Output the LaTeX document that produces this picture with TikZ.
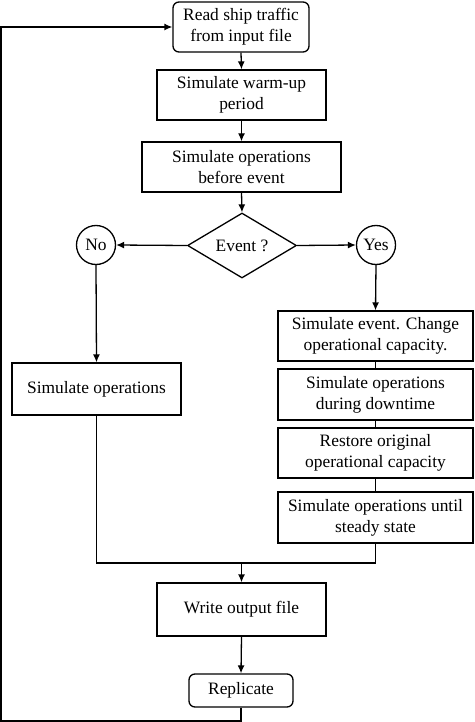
\documentclass[tikz,border=0pt]{standalone}
\usepackage{fontspec}
\setmainfont{Liberation Serif}
\usetikzlibrary{positioning, calc, shapes, arrows.meta}
\tikzset{
  procbox/.style={draw, rectangle, align=center, inner sep=2pt, minimum width=169pt, minimum height=50pt},
  roundbox/.style={procbox, rounded corners=6pt},
  flowline/.style={line width=1.3pt},
  flowarrow/.style={flowline, -{Latex[length=8pt, width=7pt]}}
}

\begin{document}
\begin{tikzpicture}[x=1pt, y=-1pt, font=\fontsize{17.4}{21}\selectfont, line width=1.3pt]

  \useasboundingbox (0,0) rectangle (474,722);

  % main column nodes

  \node[roundbox, minimum width=136pt] (read) at (241,27) {Read ship traffic\\from input file};
  \node[procbox] (warm) at (241.5,95) {Simulate warm-up\\period};
  \node[procbox, minimum width=199pt] (before) at (241.5,167) {Simulate operations\\before event};
  \node[draw, diamond, inner sep=0pt, aspect=1.68, minimum width=109pt, minimum height=65pt] (event) at (242,245.5) {Event ?};

  \draw[flowarrow] (read.south) -- (warm.north);
  \draw[flowarrow] (warm.south) -- (before.north);
  \draw[flowarrow] (before.south) -- (event.north);

  % decision nodes

  \node[draw, circle, inner sep=0pt, minimum size=39pt] (no) at (96,245) {No};
  \node[draw, circle, inner sep=0pt, minimum size=39pt] (yes) at (376,245) {Yes};

  \draw[flowarrow] (event.west) -- (no.east);
  \draw[flowarrow] (event.east) -- (yes.west);

  % no event branch

  \node[procbox, minimum height=52pt] (simops) at (96.5,389) {Simulate operations};
  \draw[flowarrow] (no.south) -- (simops.north);

  % event branch

  \node[procbox, minimum width=195pt] (evt) at (375.5,336) {Simulate event. Change\\operational capacity.};
  \node[procbox, minimum width=195pt, minimum height=51pt] (down) at (375.5,394.5) {Simulate operations\\during downtime};
  \node[procbox, minimum width=195pt] (restore) at (375.5,453) {Restore original\\operational capacity};
  \node[procbox, minimum width=195pt, minimum height=51pt] (steady) at (375.5,517.5) {Simulate operations until\\steady state};

  \draw[flowarrow] (yes.south) -- (evt.north);
  \draw[flowline] (evt.south) -- (down.north);
  \draw[flowline] (down.south) -- (restore.north);
  \draw[flowline] (restore.south) -- (steady.north);

  % output and replication

  \coordinate (merge) at (241.5,563);
  \draw[flowline] (simops.south) |- (merge) -| (steady.south);

  \node[procbox, minimum height=53pt] (write) at (241.5,609.5) {Write output file};
  \node[roundbox, minimum width=104pt, minimum height=33pt] (repl) at (241,690.5) {Replicate};

  \draw[flowarrow] (merge) -- (write.north);
  \draw[flowarrow] (write.south) -- (repl.north);

  % loop back to start

  \coordinate (loopbot) at (241,721);
  \coordinate (loopleft) at (1,721);
  \draw[flowarrow] (repl.south) -- (loopbot) -- (loopleft) |- (read.west);

\end{tikzpicture}
\end{document}
